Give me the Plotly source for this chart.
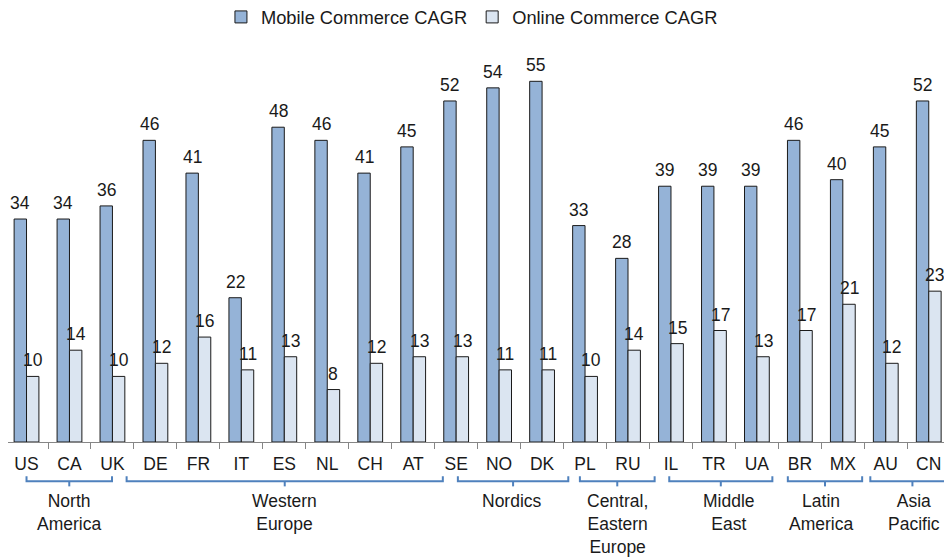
import plotly.graph_objects as go

countries = ["US", "CA", "UK", "DE", "FR", "IT", "ES", "NL", "CH", "AT", "SE",
             "NO", "DK", "PL", "RU", "IL", "TR", "UA", "BR", "MX", "AU", "CN"]
mobile_cagr = [34, 34, 36, 46, 41, 22, 48, 46, 41, 45, 52,
               54, 55, 33, 28, 39, 39, 39, 46, 40, 45, 52]
online_cagr = [10, 14, 10, 12, 16, 11, 13, 8, 12, 13, 13,
               11, 11, 10, 14, 15, 17, 13, 17, 21, 12, 23]

# region groups: label, bracket start, bracket end (category units), label centre
group_labels = ["North<br>America", "Western<br>Europe", "Nordics",
                "Central,<br>Eastern<br>Europe", "Middle<br>East",
                "Latin<br>America", "Asia<br>Pacific"]
group_start = [0.0, 2.33, 10.04, 12.88, 14.96, 17.72, 19.64]
group_end = [1.99, 9.69, 12.61, 14.62, 17.36, 19.45, 21.6]
group_center = [1.0, 6.0, 11.3, 13.76, 16.35, 18.5, 20.66]

FONT = "Liberation Sans, Arial, sans-serif"
TXT = "#1a1a1a"

# the page body adds an 8px offset; size the figure to the visible window
W, H = 936, 549
MT = 32
plot_h = 402.3
MB = H - MT - plot_h
BASE = 442.3  # baseline position in window pixels
XRANGE = [-0.431, 21.355]
BARGAP = 0.423
cat_px = W / (XRANGE[1] - XRANGE[0])
bar_off = cat_px * (1 - BARGAP) / 4


def pap(py):
    return (BASE - py) / plot_h


fig = go.Figure()
fig.add_trace(go.Bar(
    x=countries, y=mobile_cagr, name="Mobile Commerce CAGR",
    marker=dict(color="#95b3d7", line=dict(color="#1a1a1a", width=1)),
))
fig.add_trace(go.Bar(
    x=countries, y=online_cagr, name="Online Commerce CAGR",
    marker=dict(color="#dbe5f1", line=dict(color="#1a1a1a", width=1)),
))

annotations = []
for vals, sign in ((mobile_cagr, -1), (online_cagr, 1)):
    for c, v in zip(countries, vals):
        annotations.append(dict(text=str(v), x=c, y=v, xref="x", yref="y",
                                xshift=sign * bar_off, yshift=16,
                                xanchor="center", yanchor="middle", showarrow=False,
                                font=dict(family=FONT, size=17.5, color=TXT)))

shapes = []
blue = "#4f81bd"
for lab, s, e, c in zip(group_labels, group_start, group_end, group_center):
    yl = pap(481.7)
    ye = pap(476.7)
    yt = pap(486.7)
    shapes.append(dict(type="path", xref="x", yref="paper",
                       path=f"M {s},{ye} L {s},{yl} L {e},{yl} L {e},{ye}",
                       line=dict(color=blue, width=2)))
    m = (s + e) / 2
    shapes.append(dict(type="line", xref="x", yref="paper",
                       x0=m, x1=m, y0=yl, y1=yt,
                       line=dict(color=blue, width=2)))
    annotations.append(dict(text=lab, x=c, y=pap(489), xref="x", yref="paper",
                            yanchor="top", xanchor="center", showarrow=False,
                            font=dict(family=FONT, size=17.5, color=TXT)))

fig.update_layout(
    width=W, height=H,
    margin=dict(l=0, r=0, t=MT, b=MB, pad=0, autoexpand=False),
    paper_bgcolor="white", plot_bgcolor="white",
    barmode="group", bargap=BARGAP, bargroupgap=0,
    font=dict(family=FONT, size=17.5, color=TXT),
    showlegend=True,
    legend=dict(orientation="h", x=0.2275, xanchor="left", y=pap(17), yanchor="middle",
                font=dict(family=FONT, size=18.3, color=TXT),
                bgcolor="rgba(0,0,0,0)", traceorder="normal"),
    xaxis=dict(type="category", range=XRANGE, tickson="boundaries",
               ticks="outside", ticklen=6, tickcolor="#868686", tickwidth=1,
               ticklabelstandoff=6,
               showline=True, linecolor="#868686", linewidth=1,
               showgrid=False, zeroline=False,
               tickfont=dict(family=FONT, size=17.5, color=TXT)),
    yaxis=dict(visible=False, range=[0, plot_h / 6.563], showgrid=False, zeroline=False),
    shapes=shapes, annotations=annotations,
)

fig.write_html("out.html")
